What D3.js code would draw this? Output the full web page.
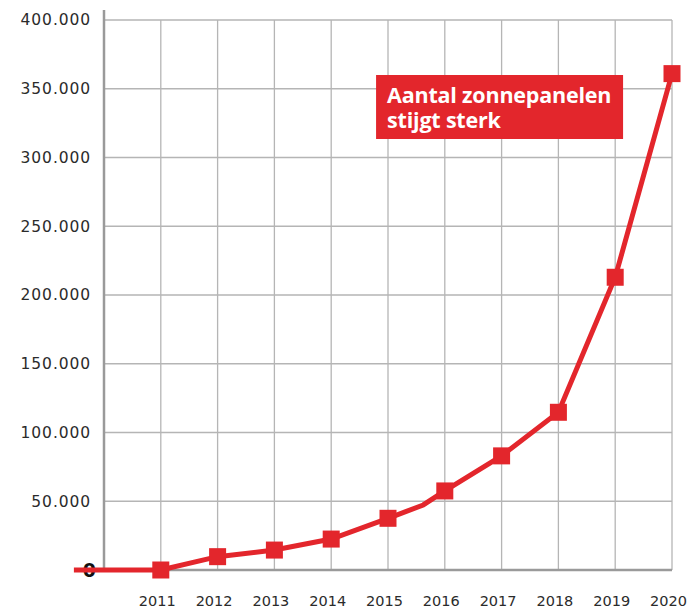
<!DOCTYPE html>
<html>
<head>
<meta charset="utf-8">
<script src="https://cdn.jsdelivr.net/npm/d3@7"></script>
<style>
  html, body { margin: 0; padding: 0; background: #fff; }
  svg { display: block; }
</style>
</head>
<body>
<div id="chart"></div>
<script>
// Aantal zonnepanelen per jaar
const years = [2011, 2012, 2013, 2014, 2015, 2016, 2017, 2018, 2019, 2020]
const panels = [0, 9700, 14500, 22500, 37600, 57500, 83000, 114700, 212900, 361000]

// extra points of the drawn line (no marker): lead-in left of the axis and the bend after 2015
const extraYears = [2009.47, 2015.62]
const extraPanels = [0, 47300]

const yTicks = [0, 50000, 100000, 150000, 200000, 250000, 300000, 350000, 400000]
const xTicks = years

const titleLines = ['Aantal zonnepanelen', 'stijgt sterk']

const width = 689
const height = 610
const red = '#e3262c'

const svg = d3.select('#chart')
    .append('svg')
    .attr('width', width)
    .attr('height', height)

// scales
const x = d3.scaleLinear()
    .domain([2010, 2020])
    .range([104, 672])

const y = d3.scaleLinear()
    .domain([0, 400000])
    .range([570, 20])

const nl = d3.formatLocale({decimal: ',', thousands: '.', grouping: [3], currency: ['€', '']})
const fmt = nl.format(',')

// grid
const grid = svg.append('g').attr('class', 'grid')

grid.selectAll('line.h')
    .data(yTicks.filter(d => d > 0))
    .enter().append('line')
    .attr('class', 'h')
    .attr('x1', x(2010))
    .attr('x2', x(2020))
    .attr('y1', d => y(d))
    .attr('y2', d => y(d))
    .attr('stroke', '#b5b5b5')
    .attr('stroke-width', 1.3)

grid.selectAll('line.v')
    .data(xTicks)
    .enter().append('line')
    .attr('class', 'v')
    .attr('x1', d => x(d))
    .attr('x2', d => x(d))
    .attr('y1', y(400000))
    .attr('y2', y(0))
    .attr('stroke', '#b5b5b5')
    .attr('stroke-width', 1.3)

// y axis
const yAxis = d3.axisLeft(y)
    .tickValues(yTicks)
    .tickSize(0)
    .tickPadding(13)
    .tickFormat(fmt)

const gy = svg.append('g')
    .attr('transform', 'translate(' + x(2010) + ',0)')
    .call(yAxis)

gy.select('.domain').remove()
gy.selectAll('text')
    .attr('fill', '#2b2b2b')
    .style('font-family', '"DejaVu Sans", sans-serif')
    .style('font-size', '15.5px')
    .style('letter-spacing', '0.9px')
gy.selectAll('text')
    .filter(d => d === 0)
    .attr('fill', '#111')
    .attr('x', -8)
    .attr('dy', '0.36em')
    .style('font-size', '19px')
    .style('font-weight', 'bold')
    .style('letter-spacing', '0px')

// x axis
const xAxis = d3.axisBottom(x)
    .tickValues(xTicks)
    .tickSize(0)
    .tickPadding(26)
    .tickFormat(d3.format('d'))

const gx = svg.append('g')
    .attr('transform', 'translate(0,' + y(0) + ')')
    .call(xAxis)

gx.select('.domain').remove()
gx.selectAll('text')
    .attr('fill', '#2b2b2b')
    .attr('dx', -4)
    .style('font-family', '"DejaVu Sans", sans-serif')
    .style('font-size', '14.5px')

// axis lines
svg.append('line')
    .attr('x1', x(2010))
    .attr('x2', x(2010))
    .attr('y1', y(400000) - 10)
    .attr('y2', y(0) + 1)
    .attr('stroke', '#9a9a9a')
    .attr('stroke-width', 2.5)

svg.append('line')
    .attr('x1', x(2010))
    .attr('x2', x(2020))
    .attr('y1', y(0))
    .attr('y2', y(0))
    .attr('stroke', '#9a9a9a')
    .attr('stroke-width', 2.5)

// line
const points = years.map((d, i) => ({year: d, value: panels[i]}))
    .concat(extraYears.map((d, i) => ({year: d, value: extraPanels[i]})))
    .sort((a, b) => a.year - b.year)

const line = d3.line()
    .x(d => x(d.year))
    .y(d => y(d.value))

svg.append('path')
    .datum(points)
    .attr('d', line)
    .attr('fill', 'none')
    .attr('stroke', red)
    .attr('stroke-width', 5)
    .attr('stroke-linejoin', 'miter')

// markers
const size = 17
svg.selectAll('rect.dot')
    .data(years)
    .enter().append('rect')
    .attr('class', 'dot')
    .attr('x', d => x(d) - size / 2)
    .attr('y', (d, i) => y(panels[i]) - size / 2)
    .attr('width', size)
    .attr('height', size)
    .attr('fill', red)

// title box
const box = svg.append('g')
    .attr('transform', 'translate(' + x(2014.79) + ',' + y(360000) + ')')

box.append('rect')
    .attr('width', 247)
    .attr('height', 64)
    .attr('fill', red)

box.selectAll('text')
    .data(titleLines)
    .enter().append('text')
    .attr('x', 11)
    .attr('y', (d, i) => 28 + i * 25)
    .attr('fill', '#fff')
    .style('font-family', '"Open Sans", sans-serif')
    .style('font-weight', 'bold')
    .style('font-size', '21.5px')
    .style('letter-spacing', '-0.2px')
    .text(d => d)
</script>
</body>
</html>
